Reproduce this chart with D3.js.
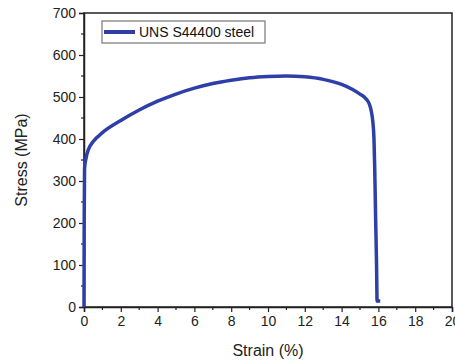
<!DOCTYPE html>
<html>
<head>
<meta charset="utf-8">
<script src="https://cdn.jsdelivr.net/npm/d3@7"></script>
<style>
  body { margin: 0; background: #fff; }
  svg { display: block; font-family: "Liberation Sans", Arial, sans-serif; }
</style>
</head>
<body>
<div id="chart"></div>
<script>
// strain (%) and stress (MPa)
var strain = [0, 0.01, 0.03, 0.1, 0.25, 0.5, 1, 2, 3, 4, 5, 6, 7, 8, 9, 10, 11, 12, 13, 14, 14.6, 15, 15.3, 15.5, 15.62, 15.7, 15.76, 15.8, 15.85, 15.9, 15.93, 16.1];
var stress = [0, 200, 330, 352, 376, 394, 415, 444, 469, 490, 507, 521, 532, 540, 546, 549, 550, 548, 542, 530, 518, 507, 497, 484, 465, 440, 400, 330, 210, 100, 14, 14];
var xTicks = [0, 2, 4, 6, 8, 10, 12, 14, 16, 18, 20];
var yTicks = [0, 100, 200, 300, 400, 500, 600, 700];
var seriesName = 'UNS S44400 steel';

var W = 455, H = 363;
var margin = { top: 13, right: 3, bottom: 56, left: 84 };
var width = W - margin.left - margin.right,
    height = H - margin.top - margin.bottom;

var svg = d3.select('#chart').append('svg')
  .attr('width', W).attr('height', H);

var g = svg.append('g')
  .attr('transform', 'translate(' + margin.left + ',' + margin.top + ')');

var x = d3.scaleLinear().domain([0, 20]).range([0, width]);
var y = d3.scaleLinear().domain([0, 700]).range([height, 0]);

// frame
g.append('rect')
  .attr('width', width).attr('height', height)
  .attr('fill', 'none').attr('stroke', '#222').attr('stroke-width', 1.5);

// minor ticks
var xMinor = d3.range(1, 20, 2);
g.append('g').selectAll('line').data(xMinor).enter().append('line')
  .attr('x1', d => x(d)).attr('x2', d => x(d))
  .attr('y1', height).attr('y2', height + 3)
  .attr('stroke', '#222').attr('stroke-width', 1.2);
var yMinor = d3.range(50, 700, 100);
g.append('g').selectAll('line').data(yMinor).enter().append('line')
  .attr('y1', d => y(d)).attr('y2', d => y(d))
  .attr('x1', 0).attr('x2', -3)
  .attr('stroke', '#222').attr('stroke-width', 1.2);

var xAxis = g.append('g')
  .attr('transform', 'translate(0,' + height + ')')
  .call(d3.axisBottom(x).tickValues(xTicks).tickSize(5).tickPadding(4));
var yAxis = g.append('g')
  .call(d3.axisLeft(y).tickValues(yTicks).tickSize(5).tickPadding(3));

[xAxis, yAxis].forEach(function(a) {
  a.select('.domain').attr('stroke', '#222').attr('stroke-width', 1.5);
  a.selectAll('.tick line').attr('stroke', '#222').attr('stroke-width', 1.2);
  a.selectAll('.tick text').attr('fill', '#222').style('font-size', '14px');
});

// curve
var data = strain.map(function(s, i) { return { strain: s, stress: stress[i] }; });
var line = d3.line()
  .x(d => x(d.strain))
  .y(d => y(d.stress))
  .curve(d3.curveMonotoneX);

g.append('path')
  .datum(data)
  .attr('d', line)
  .attr('fill', 'none')
  .attr('stroke', '#2f3fa8')
  .attr('stroke-width', 3.5)
  .attr('stroke-linejoin', 'round');

// legend
var legend = g.append('g').attr('transform', 'translate(18,8)');
legend.append('rect')
  .attr('width', 163).attr('height', 22)
  .attr('fill', '#fff').attr('stroke', '#777').attr('stroke-width', 1.2);
legend.append('line')
  .attr('x1', 2).attr('x2', 33).attr('y1', 11).attr('y2', 11)
  .attr('stroke', '#2f3fa8').attr('stroke-width', 4);
legend.append('text')
  .attr('x', 37).attr('y', 11).attr('dy', '0.35em')
  .style('font-size', '14px').attr('fill', '#111')
  .text(seriesName);

// axis titles
svg.append('text')
  .attr('x', margin.left + x(10)).attr('y', 356)
  .attr('text-anchor', 'middle')
  .style('font-size', '16px').attr('fill', '#222')
  .text('Strain (%)');
svg.append('text')
  .attr('transform', 'translate(27,' + (margin.top + y(350)) + ') rotate(-90)')
  .attr('text-anchor', 'middle')
  .style('font-size', '16px').attr('fill', '#222')
  .text('Stress (MPa)');
</script>
</body>
</html>
